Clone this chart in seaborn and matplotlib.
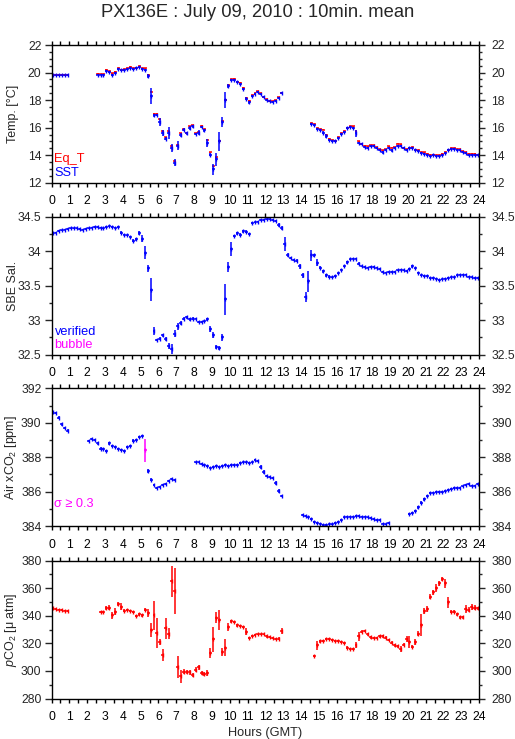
import numpy as np
import pandas as pd
import matplotlib
matplotlib.use("Agg")
import matplotlib.pyplot as plt
from matplotlib.ticker import MultipleLocator, FuncFormatter
import seaborn as sns

nan = np.nan

# ---------------- data (10-minute means, 6 per hour, hours 0..23) ----------------
sst = [
    19.80, 19.80, 19.80, 19.80, 19.80, 19.82,
    nan, nan, nan, nan, nan, nan,
    nan, nan, nan, 19.85, 19.85, 19.85,
    20.10, 20.05, 19.85, 20.00, 20.25, 20.15,
    20.20, 20.25, 20.30, 20.25, 20.30, 20.40,
    20.25, 20.20, 19.75, 18.30, 16.90, 16.90,
    16.40, 15.60, 15.20, 15.60, 14.50, 13.45,
    14.70, 15.50, 15.85, 15.60, 16.00, 16.10,
    15.55, 15.65, 16.05, 15.80, 14.90, 14.05,
    13.00, 13.70, 15.00, 16.40, 18.00, 19.05,
    19.45, 19.45, 19.30, 19.20, 18.80, 18.10,
    17.85, 18.30, 18.45, 18.60, 18.45, 18.20,
    18.00, 17.90, 17.85, 17.95, 18.15, 18.50,
    nan, nan, nan, nan, nan, nan,
    nan, nan, nan, 16.25, 16.20, 15.90,
    15.85, 15.65, 15.40, 15.10, 15.05, 15.00,
    15.25, 15.55, 15.70, 15.95, 16.05, 16.00,
    15.60, 14.90, 14.80, 14.60, 14.55, 14.65,
    14.70, 14.55, 14.40, 14.20, 14.40, 14.55,
    14.35, 14.55, 14.70, 14.65, 14.50, 14.40,
    14.50, 14.50, 14.35, 14.30, 14.15, 14.10,
    14.00, 13.95, 14.00, 13.95, 13.95, 14.05,
    14.15, 14.35, 14.45, 14.45, 14.40, 14.35,
    14.25, 14.15, 14.05, 14.05, 14.05, 14.00,
]
sst_std = [
    0.05, 0.05, 0.05, 0.05, 0.05, 0.05,
    nan, nan, nan, nan, nan, nan,
    nan, nan, nan, 0.06, 0.06, 0.06,
    0.07, 0.07, 0.08, 0.07, 0.07, 0.07,
    0.07, 0.07, 0.07, 0.07, 0.07, 0.07,
    0.07, 0.07, 0.15, 0.60, 0.10, 0.08,
    0.30, 0.20, 0.10, 0.45, 0.30, 0.25,
    0.30, 0.15, 0.10, 0.10, 0.15, 0.10,
    0.10, 0.15, 0.10, 0.10, 0.30, 0.10,
    0.40, 0.45, 0.70, 0.35, 0.60, 0.15,
    0.07, 0.07, 0.07, 0.07, 0.10, 0.10,
    0.10, 0.07, 0.07, 0.07, 0.07, 0.07,
    0.07, 0.07, 0.07, 0.07, 0.10, 0.07,
    nan, nan, nan, nan, nan, nan,
    nan, nan, nan, 0.07, 0.07, 0.07,
    0.07, 0.08, 0.15, 0.08, 0.07, 0.07,
    0.08, 0.07, 0.07, 0.07, 0.07, 0.07,
    0.25, 0.08, 0.07, 0.07, 0.07, 0.07,
    0.07, 0.07, 0.07, 0.10, 0.07, 0.07,
    0.08, 0.07, 0.07, 0.07, 0.07, 0.07,
    0.07, 0.07, 0.07, 0.07, 0.07, 0.07,
    0.07, 0.07, 0.07, 0.07, 0.07, 0.07,
    0.07, 0.07, 0.07, 0.07, 0.07, 0.07,
    0.07, 0.07, 0.07, 0.07, 0.07, 0.07,
]
eq_t = [
    19.85, 19.85, 19.85, 19.85, 19.85, 19.85,
    nan, nan, nan, nan, nan, nan,
    nan, nan, nan, 19.92, 19.90, 19.90,
    20.20, 20.10, 19.95, 20.05, 20.30, 20.20,
    20.25, 20.30, 20.42, 20.30, 20.35, 20.45,
    20.30, 20.30, 19.85, 18.60, 17.00, 17.00,
    16.60, 15.75, 15.30, 15.75, 14.70, 13.55,
    14.75, 15.60, 15.90, 15.65, 16.10, 16.20,
    15.60, 15.70, 16.15, 15.90, 15.10, 14.20,
    13.20, 13.85, 15.05, 16.45, 18.00, 19.10,
    19.50, 19.55, 19.35, 19.25, 18.90, 18.15,
    17.95, 18.35, 18.50, 18.65, 18.50, 18.25,
    18.05, 17.95, 17.90, 18.00, 18.20, 18.55,
    nan, nan, nan, nan, nan, nan,
    nan, nan, nan, 16.32, 16.25, 15.95,
    15.90, 15.85, 15.50, 15.20, 15.10, 15.05,
    15.30, 15.60, 15.75, 16.00, 16.10, 16.10,
    15.75, 15.00, 14.85, 14.70, 14.65, 14.72,
    14.72, 14.60, 14.45, 14.35, 14.45, 14.65,
    14.55, 14.60, 14.85, 14.80, 14.55, 14.45,
    14.55, 14.60, 14.40, 14.35, 14.20, 14.20,
    14.10, 14.05, 14.05, 14.00, 14.00, 14.10,
    14.20, 14.40, 14.50, 14.50, 14.45, 14.45,
    14.30, 14.20, 14.10, 14.10, 14.10, 14.05,
]

salinity = [
    34.26, 34.27, 34.29, 34.30, 34.31, 34.32,
    34.33, 34.33, 34.33, 34.32, 34.31, 34.32,
    34.33, 34.34, 34.35, 34.35, 34.34, 34.33,
    34.35, 34.36, 34.35, 34.34, 34.35, 34.27,
    34.24, 34.23, 34.21, 34.15, 34.17, 34.26,
    34.18, 33.98, 33.75, 33.44, 32.84, 32.71,
    32.73, 32.78, 32.73, 32.62, 32.58, 32.80,
    32.91, 32.96, 33.02, 33.04, 33.01, 33.02,
    33.02, 32.97, 32.97, 32.98, 33.01, 32.87,
    32.78, 32.61, 32.59, 32.75, 33.30, 33.77,
    34.03, 34.22, 34.26, 34.24, 34.29, 34.28,
    34.25, 34.41, 34.42, 34.43, 34.45, 34.45,
    34.46, 34.46, 34.45, 34.44, 34.38, 34.33,
    34.10, 33.94, 33.90, 33.87, 33.86, 33.78,
    33.65, 33.33, 33.56, 33.94, 33.94, 33.83,
    33.76, 33.71, 33.65, 33.63, 33.62, 33.64,
    33.68, 33.73, 33.78, 33.84, 33.88, 33.89,
    33.89, 33.82, 33.78, 33.77, 33.76, 33.77,
    33.77, 33.76, 33.74, 33.70, 33.69, 33.70,
    33.70, 33.70, 33.72, 33.73, 33.72, 33.71,
    33.74, 33.78, 33.75, 33.69, 33.65, 33.64,
    33.64, 33.61, 33.61, 33.60, 33.58, 33.59,
    33.60, 33.61, 33.62, 33.62, 33.65, 33.66,
    33.66, 33.66, 33.63, 33.62, 33.61, 33.61,
]
salinity_std = [
    0.01, 0.01, 0.01, 0.01, 0.01, 0.01,
    0.01, 0.01, 0.01, 0.01, 0.01, 0.01,
    0.01, 0.01, 0.01, 0.01, 0.01, 0.01,
    0.01, 0.01, 0.01, 0.01, 0.01, 0.02,
    0.01, 0.01, 0.01, 0.02, 0.02, 0.03,
    0.05, 0.10, 0.05, 0.17, 0.06, 0.02,
    0.02, 0.02, 0.03, 0.04, 0.07, 0.05,
    0.05, 0.03, 0.02, 0.02, 0.02, 0.02,
    0.01, 0.01, 0.01, 0.01, 0.02, 0.04,
    0.04, 0.03, 0.03, 0.05, 0.22, 0.07,
    0.10, 0.02, 0.02, 0.02, 0.02, 0.02,
    0.02, 0.01, 0.01, 0.01, 0.01, 0.01,
    0.01, 0.01, 0.01, 0.01, 0.03, 0.03,
    0.10, 0.03, 0.01, 0.01, 0.02, 0.04,
    0.04, 0.07, 0.15, 0.08, 0.02, 0.05,
    0.02, 0.02, 0.02, 0.02, 0.01, 0.01,
    0.01, 0.01, 0.01, 0.02, 0.01, 0.01,
    0.01, 0.02, 0.01, 0.01, 0.01, 0.01,
    0.01, 0.01, 0.01, 0.01, 0.01, 0.01,
    0.01, 0.01, 0.01, 0.01, 0.01, 0.01,
    0.01, 0.02, 0.01, 0.01, 0.01, 0.01,
    0.01, 0.01, 0.01, 0.01, 0.01, 0.01,
    0.01, 0.01, 0.01, 0.01, 0.01, 0.01,
    0.01, 0.01, 0.01, 0.01, 0.01, 0.01,
]

air_xco2 = [
    390.60, 390.55, 390.30, 389.90, 389.70, 389.55,
    nan, nan, nan, nan, nan, nan,
    388.95, 389.05, 389.00, 388.80, 388.50, 388.45,
    388.35, 388.80, 388.65, 388.60, 388.50, 388.40,
    388.35, 388.60, 388.65, 388.95, 389.00, 389.15,
    389.25, 388.40, 387.20, 386.70, 386.40, 386.20,
    386.25, 386.40, 386.45, 386.60, 386.75, 386.70,
    nan, nan, nan, nan, nan, nan,
    387.70, 387.70, 387.60, 387.55, 387.50, 387.40,
    387.45, 387.50, 387.45, 387.50, 387.55, 387.50,
    387.55, 387.55, 387.55, 387.65, 387.70, 387.70,
    387.65, 387.70, 387.85, 387.80, 387.45, 387.15,
    386.90, 386.85, 386.80, 386.50, 386.05, 385.75,
    nan, nan, nan, nan, nan, nan,
    384.65, 384.60, 384.50, 384.40, 384.25, 384.20,
    384.15, 384.05, 384.05, 384.10, 384.10, 384.20,
    384.25, 384.35, 384.50, 384.55, 384.55, 384.55,
    384.60, 384.60, 384.55, 384.55, 384.50, 384.45,
    384.40, 384.35, 384.35, 384.15, 384.10, 384.20,
    nan, nan, nan, nan, nan, nan,
    384.70, 384.75, 384.90, 385.10, 385.35, 385.55,
    385.75, 385.90, 385.95, 386.00, 386.00, 386.00,
    386.05, 386.10, 386.15, 386.20, 386.20, 386.20,
    386.30, 386.40, 386.45, 386.35, 386.35, 386.45,
]
air_xco2_std = [
    0.05, 0.05, 0.08, 0.08, 0.06, 0.06,
    nan, nan, nan, nan, nan, nan,
    0.06, 0.06, 0.08, 0.08, 0.08, 0.06,
    0.06, 0.08, 0.06, 0.06, 0.06, 0.06,
    0.06, 0.06, 0.06, 0.08, 0.06, 0.06,
    0.06, 0.68, 0.12, 0.10, 0.06, 0.06,
    0.06, 0.06, 0.06, 0.06, 0.06, 0.06,
    nan, nan, nan, nan, nan, nan,
    0.05, 0.05, 0.05, 0.05, 0.05, 0.05,
    0.05, 0.05, 0.05, 0.05, 0.05, 0.05,
    0.05, 0.05, 0.05, 0.05, 0.05, 0.05,
    0.05, 0.05, 0.06, 0.06, 0.12, 0.10,
    0.06, 0.05, 0.06, 0.12, 0.10, 0.08,
    nan, nan, nan, nan, nan, nan,
    0.05, 0.05, 0.05, 0.05, 0.05, 0.05,
    0.05, 0.05, 0.05, 0.05, 0.05, 0.05,
    0.05, 0.05, 0.05, 0.05, 0.05, 0.05,
    0.05, 0.05, 0.05, 0.05, 0.05, 0.05,
    0.05, 0.05, 0.05, 0.05, 0.05, 0.05,
    nan, nan, nan, nan, nan, nan,
    0.05, 0.05, 0.06, 0.08, 0.08, 0.08,
    0.08, 0.06, 0.05, 0.05, 0.05, 0.05,
    0.05, 0.05, 0.05, 0.05, 0.05, 0.05,
    0.05, 0.05, 0.05, 0.05, 0.05, 0.05,
]

pco2 = [
    345.5, 345.0, 344.5, 344.0, 343.8, 343.5,
    nan, nan, nan, nan, nan, nan,
    nan, nan, nan, nan, 342.8, 342.8,
    345.5, 346.0, 340.5, 343.0, 348.5, 346.5,
    343.8, 344.2, 343.5, 343.0, 340.0, 341.0,
    340.5, 344.5, 342.0, 329.5, 340.5, 327.5,
    321.0, 311.5, 331.0, 327.0, 365.0, 358.0,
    303.0, 296.0, 299.5, 299.0, 299.0, 297.0,
    301.0, 302.5, 298.5, 297.5, 298.5, 313.0,
    323.0, 338.5, 337.0, 313.5, 317.0, 332.0,
    336.0, 335.5, 333.0, 332.5, 332.0, 328.5,
    324.0, 325.5, 326.0, 326.5, 326.5, 326.5,
    325.0, 324.5, 324.0, 323.0, 323.5, 329.0,
    nan, nan, nan, nan, nan, nan,
    nan, nan, nan, nan, 311.0, 318.5,
    321.5, 322.0, 323.0, 323.0, 322.5, 322.0,
    321.5, 321.0, 320.0, 317.0, 316.0, 316.0,
    319.0, 325.0, 328.5, 329.0, 326.5, 324.5,
    324.0, 324.0, 325.0, 325.0, 324.0, 322.5,
    320.5, 318.5, 318.0, 316.0, 319.0, 323.0,
    321.0, 317.5, 321.0, 327.0, 333.0, 343.5,
    345.0, 354.0, 357.0, 360.0, 363.5, 366.5,
    363.5, 350.0, 343.0, 343.0, 341.0, 339.0,
    339.0, 345.0, 344.5, 346.5, 346.0, 345.5,
]
pco2_std = [
    0.6, 0.6, 0.6, 0.6, 0.6, 0.6,
    nan, nan, nan, nan, nan, nan,
    nan, nan, nan, nan, 0.8, 0.8,
    1.5, 2.0, 2.5, 2.5, 1.5, 2.5,
    0.8, 0.8, 0.8, 0.8, 0.8, 0.8,
    1.0, 1.0, 3.0, 5.0, 10.5, 11.0,
    2.0, 4.5, 7.5, 4.0, 11.0, 17.0,
    8.0, 5.0, 2.0, 1.5, 2.0, 1.5,
    1.5, 2.0, 1.5, 1.5, 2.0, 3.5,
    9.0, 4.0, 7.5, 3.0, 6.5, 3.0,
    1.0, 0.8, 0.8, 0.8, 0.8, 2.5,
    0.8, 0.8, 0.8, 0.6, 0.6, 0.6,
    0.8, 0.8, 0.8, 0.8, 1.0, 2.0,
    nan, nan, nan, nan, nan, nan,
    nan, nan, nan, nan, 0.8, 3.5,
    1.0, 0.8, 0.8, 0.8, 0.8, 0.8,
    0.8, 0.8, 0.8, 1.0, 0.8, 0.8,
    2.0, 3.0, 1.0, 1.0, 1.0, 1.0,
    0.8, 0.8, 1.0, 1.0, 1.0, 1.0,
    1.0, 1.0, 1.0, 2.0, 1.0, 2.0,
    4.0, 1.0, 2.0, 2.0, 8.0, 2.0,
    2.0, 2.0, 2.0, 3.0, 2.0, 1.5,
    3.0, 4.0, 1.0, 1.0, 1.0, 1.0,
    1.0, 3.0, 2.0, 2.0, 2.0, 1.0,
]

hours = [(i + 0.5) / 6.0 for i in range(144)]
half_width = 1.0 / 12.0
hour_ticks = list(range(0, 25))

title = "PX136E : July 09, 2010 : 10min. mean"

# ---------------- style ----------------
sns.set_theme(style="ticks")
plt.rcParams["font.family"] = ["Liberation Sans", "DejaVu Sans"]
plt.rcParams["mathtext.fontset"] = "custom"
plt.rcParams["mathtext.rm"] = "Liberation Sans"
plt.rcParams["mathtext.it"] = "Liberation Sans:italic"
plt.rcParams["axes.linewidth"] = 1.0

BLUE = "#0000ff"
RED = "#ff0000"
MAGENTA = "#ff00ff"

W, H = 515, 739
fig = plt.figure(figsize=(W / 100, H / 100), dpi=100)
fig.patch.set_facecolor("white")

x0, x1 = 51.5, 479.3
tops = [45.0, 216.7, 388.3, 560.7]
ph = 137.8
axes = []
for t in tops:
    ax = fig.add_axes([x0 / W, 1 - (t + ph) / H, (x1 - x0) / W, ph / H])
    axes.append(ax)

FS = 8.7


def draw(ax, y, err, color, lw=1.1, tick=True):
    y = np.asarray(y, float)
    e = np.asarray(err, float)
    m = ~np.isnan(y)
    xs = np.asarray(hours)[m]
    ax.errorbar(xs, y[m], xerr=half_width, yerr=e[m], fmt="none",
                ecolor=color, elinewidth=lw, capsize=0)
    if tick:
        df = pd.DataFrame({"hour": xs, "value": y[m]})
        sns.scatterplot(data=df, x="hour", y="value", ax=ax, marker="|",
                        s=11, color=color, linewidth=1.0, legend=False)
    ax.set_xlabel("")
    ax.set_ylabel("")


def style(ax, ylim, major, minor, ylabel, fmt=None):
    ax.set_xlim(0, 24)
    ax.set_ylim(*ylim)
    ax.set_facecolor("white")
    for s in ax.spines.values():
        s.set_visible(True)
        s.set_color("black")
        s.set_linewidth(1.0)
    ax.set_xticks(hour_ticks)
    ax.set_xticklabels([str(h) for h in hour_ticks])
    ax.xaxis.set_minor_locator(MultipleLocator(0.5))
    ax.yaxis.set_major_locator(MultipleLocator(major))
    ax.yaxis.set_minor_locator(MultipleLocator(minor))
    ax.tick_params(axis="x", which="both", direction="out", top=True, bottom=True,
                   length=3.0, width=1.0, labelsize=FS, pad=6, colors="black")
    ax.tick_params(axis="y", which="major", direction="out", left=True, right=False,
                   length=5.0, width=1.0, labelsize=FS, pad=2.2)
    ax.tick_params(axis="y", which="minor", direction="out", left=True, right=False,
                   length=2.5, width=1.0)
    ax.grid(False)
    ax2 = ax.twinx()
    ax2.set_ylim(*ylim)
    ax2.yaxis.set_major_locator(MultipleLocator(major))
    ax2.yaxis.set_minor_locator(MultipleLocator(minor))
    ax2.tick_params(axis="y", which="major", direction="out", length=4.0, width=1.0,
                    labelsize=FS, pad=4.5)
    ax2.tick_params(axis="y", which="minor", direction="out", length=2.2, width=1.0)
    for s in ax2.spines.values():
        s.set_visible(False)
    ax2.grid(False)
    if fmt is not None:
        ax.yaxis.set_major_formatter(fmt)
        ax2.yaxis.set_major_formatter(fmt)
    ax.set_ylabel(ylabel, fontsize=FS + 0.3)
    ax.yaxis.set_label_coords(-0.077, 0.5)


gf = FuncFormatter(lambda v, pos: "%g" % round(v, 3))

# Panel 1: temperature
ax = axes[0]
draw(ax, eq_t, [0.03] * 144, RED, tick=False)
draw(ax, sst, sst_std, BLUE)
style(ax, (12, 22), 2, 0.5, "Temp. [°C]", gf)
ax.text(0.007, 0.172, "Eq_T", color=RED, transform=ax.transAxes,
        fontsize=FS + 0.5, va="center", ha="left")
ax.text(0.007, 0.074, "SST", color=BLUE, transform=ax.transAxes,
        fontsize=FS + 0.5, va="center", ha="left")

# Panel 2: salinity
ax = axes[1]
draw(ax, salinity, salinity_std, BLUE)
style(ax, (32.5, 34.5), 0.5, 0.25, "SBE Sal.", gf)
ax.text(0.007, 0.16, "verified", color=BLUE, transform=ax.transAxes,
        fontsize=FS + 0.5, va="center", ha="left")
ax.text(0.007, 0.066, "bubble", color=MAGENTA, transform=ax.transAxes,
        fontsize=FS + 0.5, va="center", ha="left")

# Panel 3: air xCO2
ax = axes[2]
air = np.asarray(air_xco2, float)
air_s = np.asarray(air_xco2_std, float)
flag = np.nan_to_num(air_s) >= 0.3
draw(ax, np.where(flag, np.nan, air), air_s, BLUE)
draw(ax, np.where(flag, air, np.nan), air_s, MAGENTA)
style(ax, (384, 392), 2, 1, "Air xCO$_2$ [ppm]", gf)
ax.text(0.007, 0.16, "σ ≥ 0.3", color=MAGENTA, transform=ax.transAxes,
        fontsize=FS + 0.5, va="center", ha="left")

# Panel 4: pCO2
ax = axes[3]
draw(ax, pco2, pco2_std, RED)
style(ax, (280, 380), 20, 10, "$p$CO$_2$ [μ atm]", gf)
ax.set_xlabel("Hours (GMT)", fontsize=FS + 0.5, labelpad=3)

fig.text(0.5, 1 - 12.5 / H, title, ha="center", va="center", fontsize=13.2)

fig.savefig("out.png", dpi=100, facecolor="white")
